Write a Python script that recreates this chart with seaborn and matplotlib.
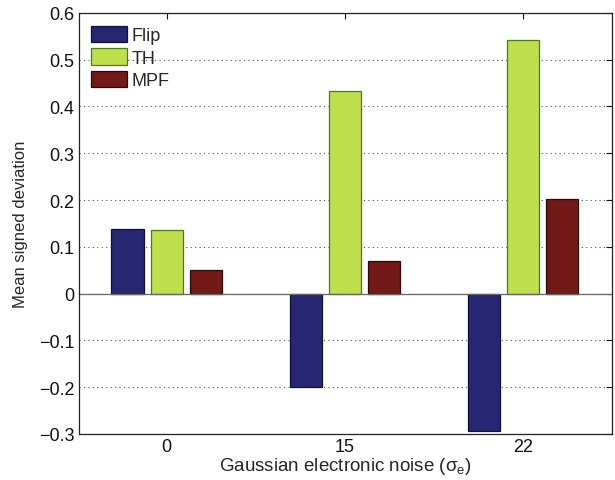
import matplotlib
matplotlib.use("Agg")
import matplotlib.pyplot as plt
import seaborn as sns
import pandas as pd

noise_levels = ["0", "15", "22"]
methods = ["Flip", "TH", "MPF"]
flip_values = [0.137, -0.199, -0.293]
th_values = [0.136, 0.433, 0.543]
mpf_values = [0.051, 0.070, 0.203]
palette = {"Flip": "#262672", "TH": "#bfe04c", "MPF": "#731a17"}
edge_colors = {"Flip": "#101030", "TH": "#4a7a1a", "MPF": "#2a0a08"}

rows = []
for method, vals in zip(methods, [flip_values, th_values, mpf_values]):
    for lvl, v in zip(noise_levels, vals):
        rows.append({"noise": lvl, "method": method, "value": v})
df = pd.DataFrame(rows)

sns.set_style("white")
plt.rcParams["font.family"] = ["Liberation Sans", "DejaVu Sans"]
plt.rcParams["mathtext.fontset"] = "custom"
plt.rcParams["mathtext.rm"] = "Liberation Sans"
plt.rcParams["mathtext.it"] = "Liberation Sans"

fig, ax = plt.subplots(figsize=(6.15, 4.81), dpi=100)
fig.subplots_adjust(left=0.128, right=0.995, top=0.971, bottom=0.096)

sns.barplot(data=df, x="noise", y="value", hue="method", order=noise_levels,
            hue_order=methods, palette=palette, saturation=1, width=0.66,
            gap=0.18, linewidth=0.9, ax=ax, legend=True)

for container, method in zip(ax.containers, methods):
    for bar in container:
        bar.set_edgecolor(edge_colors[method])

ax.set_ylim(-0.3, 0.6)
ax.set_xlim(-0.494, 2.5)
ax.set_yticks([-0.3, -0.2, -0.1, 0, 0.1, 0.2, 0.3, 0.4, 0.5, 0.6])
ax.set_yticklabels(["\u22120.3", "\u22120.2", "\u22120.1", "0", "0.1", "0.2",
                    "0.3", "0.4", "0.5", "0.6"])
ax.yaxis.grid(True, linestyle=(0, (1, 3)), color="#555555", linewidth=0.8)
ax.set_axisbelow(True)
ax.axhline(0, color="#666666", linewidth=0.9, zorder=1.5)

ax.tick_params(axis="both", direction="in", length=4, width=0.8,
               top=True, right=True, labelsize=13, colors="#111111")
ax.tick_params(axis="x", pad=3)
ax.tick_params(axis="y", pad=3)
for s in ax.spines.values():
    s.set_color("#222222")
    s.set_linewidth(0.9)

ax.set_xlabel(r"Gaussian electronic noise ($\sigma_e$)", fontsize=13.5, labelpad=0)
ax.set_ylabel("Mean signed deviation", fontsize=12, labelpad=8)

leg = ax.legend(loc="upper left", frameon=False, fontsize=13,
                handlelength=1.95, handleheight=1.0, handletextpad=0.3,
                labelspacing=0.25, borderaxespad=0.3, borderpad=0.4)
for patch, method in zip(leg.get_patches(), methods):
    patch.set_edgecolor(edge_colors[method])

fig.savefig("out.png", dpi=100)
